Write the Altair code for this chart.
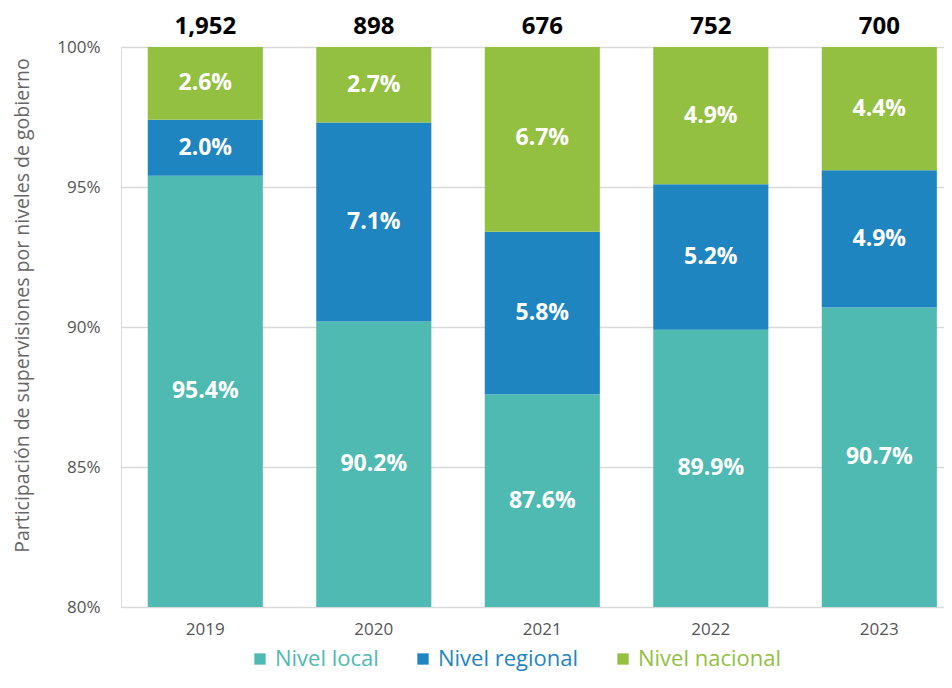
import altair as alt
import pandas as pd

years = ["2019", "2020", "2021", "2022", "2023"]
totals = [1952, 898, 676, 752, 700]
local = [95.4, 90.2, 87.6, 89.9, 90.7]
regional = [2.0, 7.1, 5.8, 5.2, 4.9]
nacional = [2.6, 2.7, 6.7, 4.9, 4.4]
series = ["Nivel local", "Nivel regional", "Nivel nacional"]
colors = ["#4fbab2", "#1e85c1", "#93c041"]

rows = []
for i, y in enumerate(years):
    for k, (name, vals) in enumerate(zip(series, [local, regional, nacional])):
        rows.append({"year": y, "nivel": name, "orden": k, "valor": vals[i]})
df = pd.DataFrame(rows)
tot = pd.DataFrame({"year": years, "total": totals, "top": [100] * len(years)})

FONT = "Open Sans"

xenc = alt.X("year:N", title=None,
             scale=alt.Scale(paddingInner=0.317, paddingOuter=0.1006, align=0.789),
             axis=alt.Axis(labelFontSize=17, labelColor="#555555", labelFont=FONT,
                           labelPadding=14, ticks=False, domain=False, labelAngle=0))

base = alt.Chart(df).transform_stack(
    stack="valor", groupby=["year"], as_=["y0", "y1"], sort=[alt.SortField("orden")]
).transform_calculate(
    mid="(max(datum.y0, 80) + datum.y1) / 2",
    lab="format(datum.valor, '.1f') + '%'"
)

bars = base.mark_bar(clip=True).encode(
    x=xenc,
    y=alt.Y("y0:Q", title="Participación de supervisiones por niveles de gobierno",
            scale=alt.Scale(domain=[80, 100], nice=False, zero=False),
            axis=alt.Axis(values=[80, 85, 90, 95, 100], labelExpr="datum.value + '%'",
                          labelFontSize=17, labelColor="#555555", labelFont=FONT,
                          labelPadding=21, ticks=False, domain=False,
                          gridColor="#d9d9d9", gridWidth=1.3,
                          titleFontSize=19.5, titleFont=FONT, titleColor="#666666",
                          titleFontWeight="normal", titlePadding=24, titleY=258)),
    y2="y1:Q",
    color=alt.Color("nivel:N", scale=alt.Scale(domain=series, range=colors),
                    legend=alt.Legend(title=None, orient="none", direction="horizontal",
                                      legendX=128, legendY=601,
                                      symbolType="square", symbolSize=128,
                                      symbolStrokeWidth=0, labelFontSize=22,
                                      labelFont=FONT, columnPadding=33, labelOffset=4,
                                      labelColor={"expr": "datum.label == 'Nivel local' ? '#4fbab2' : datum.label == 'Nivel regional' ? '#1e85c1' : '#93c041'"})),
    order=alt.Order("orden:Q"),
)

labels = base.mark_text(color="white", fontWeight="bold", fontSize=23, font=FONT,
                        baseline="middle").encode(
    x=alt.X("year:N"),
    y=alt.Y("mid:Q"),
    text="lab:N",
)

tops = alt.Chart(tot).mark_text(color="black", fontWeight="bold", fontSize=24, font=FONT,
                                baseline="middle", dy=-20).encode(
    x=alt.X("year:N"),
    y=alt.Y("top:Q"),
    text=alt.Text("total:Q", format=","),
)

chart = alt.layer(bars, labels, tops).properties(
    width=823, height=560,
    autosize=alt.AutoSizeParams(type="none"),
    padding={"left": 113, "top": 39, "right": 0, "bottom": 66},
).configure_view(stroke=None).configure(background="white")

chart.save("out.html", embed_options={"renderer": "svg", "actions": False})
